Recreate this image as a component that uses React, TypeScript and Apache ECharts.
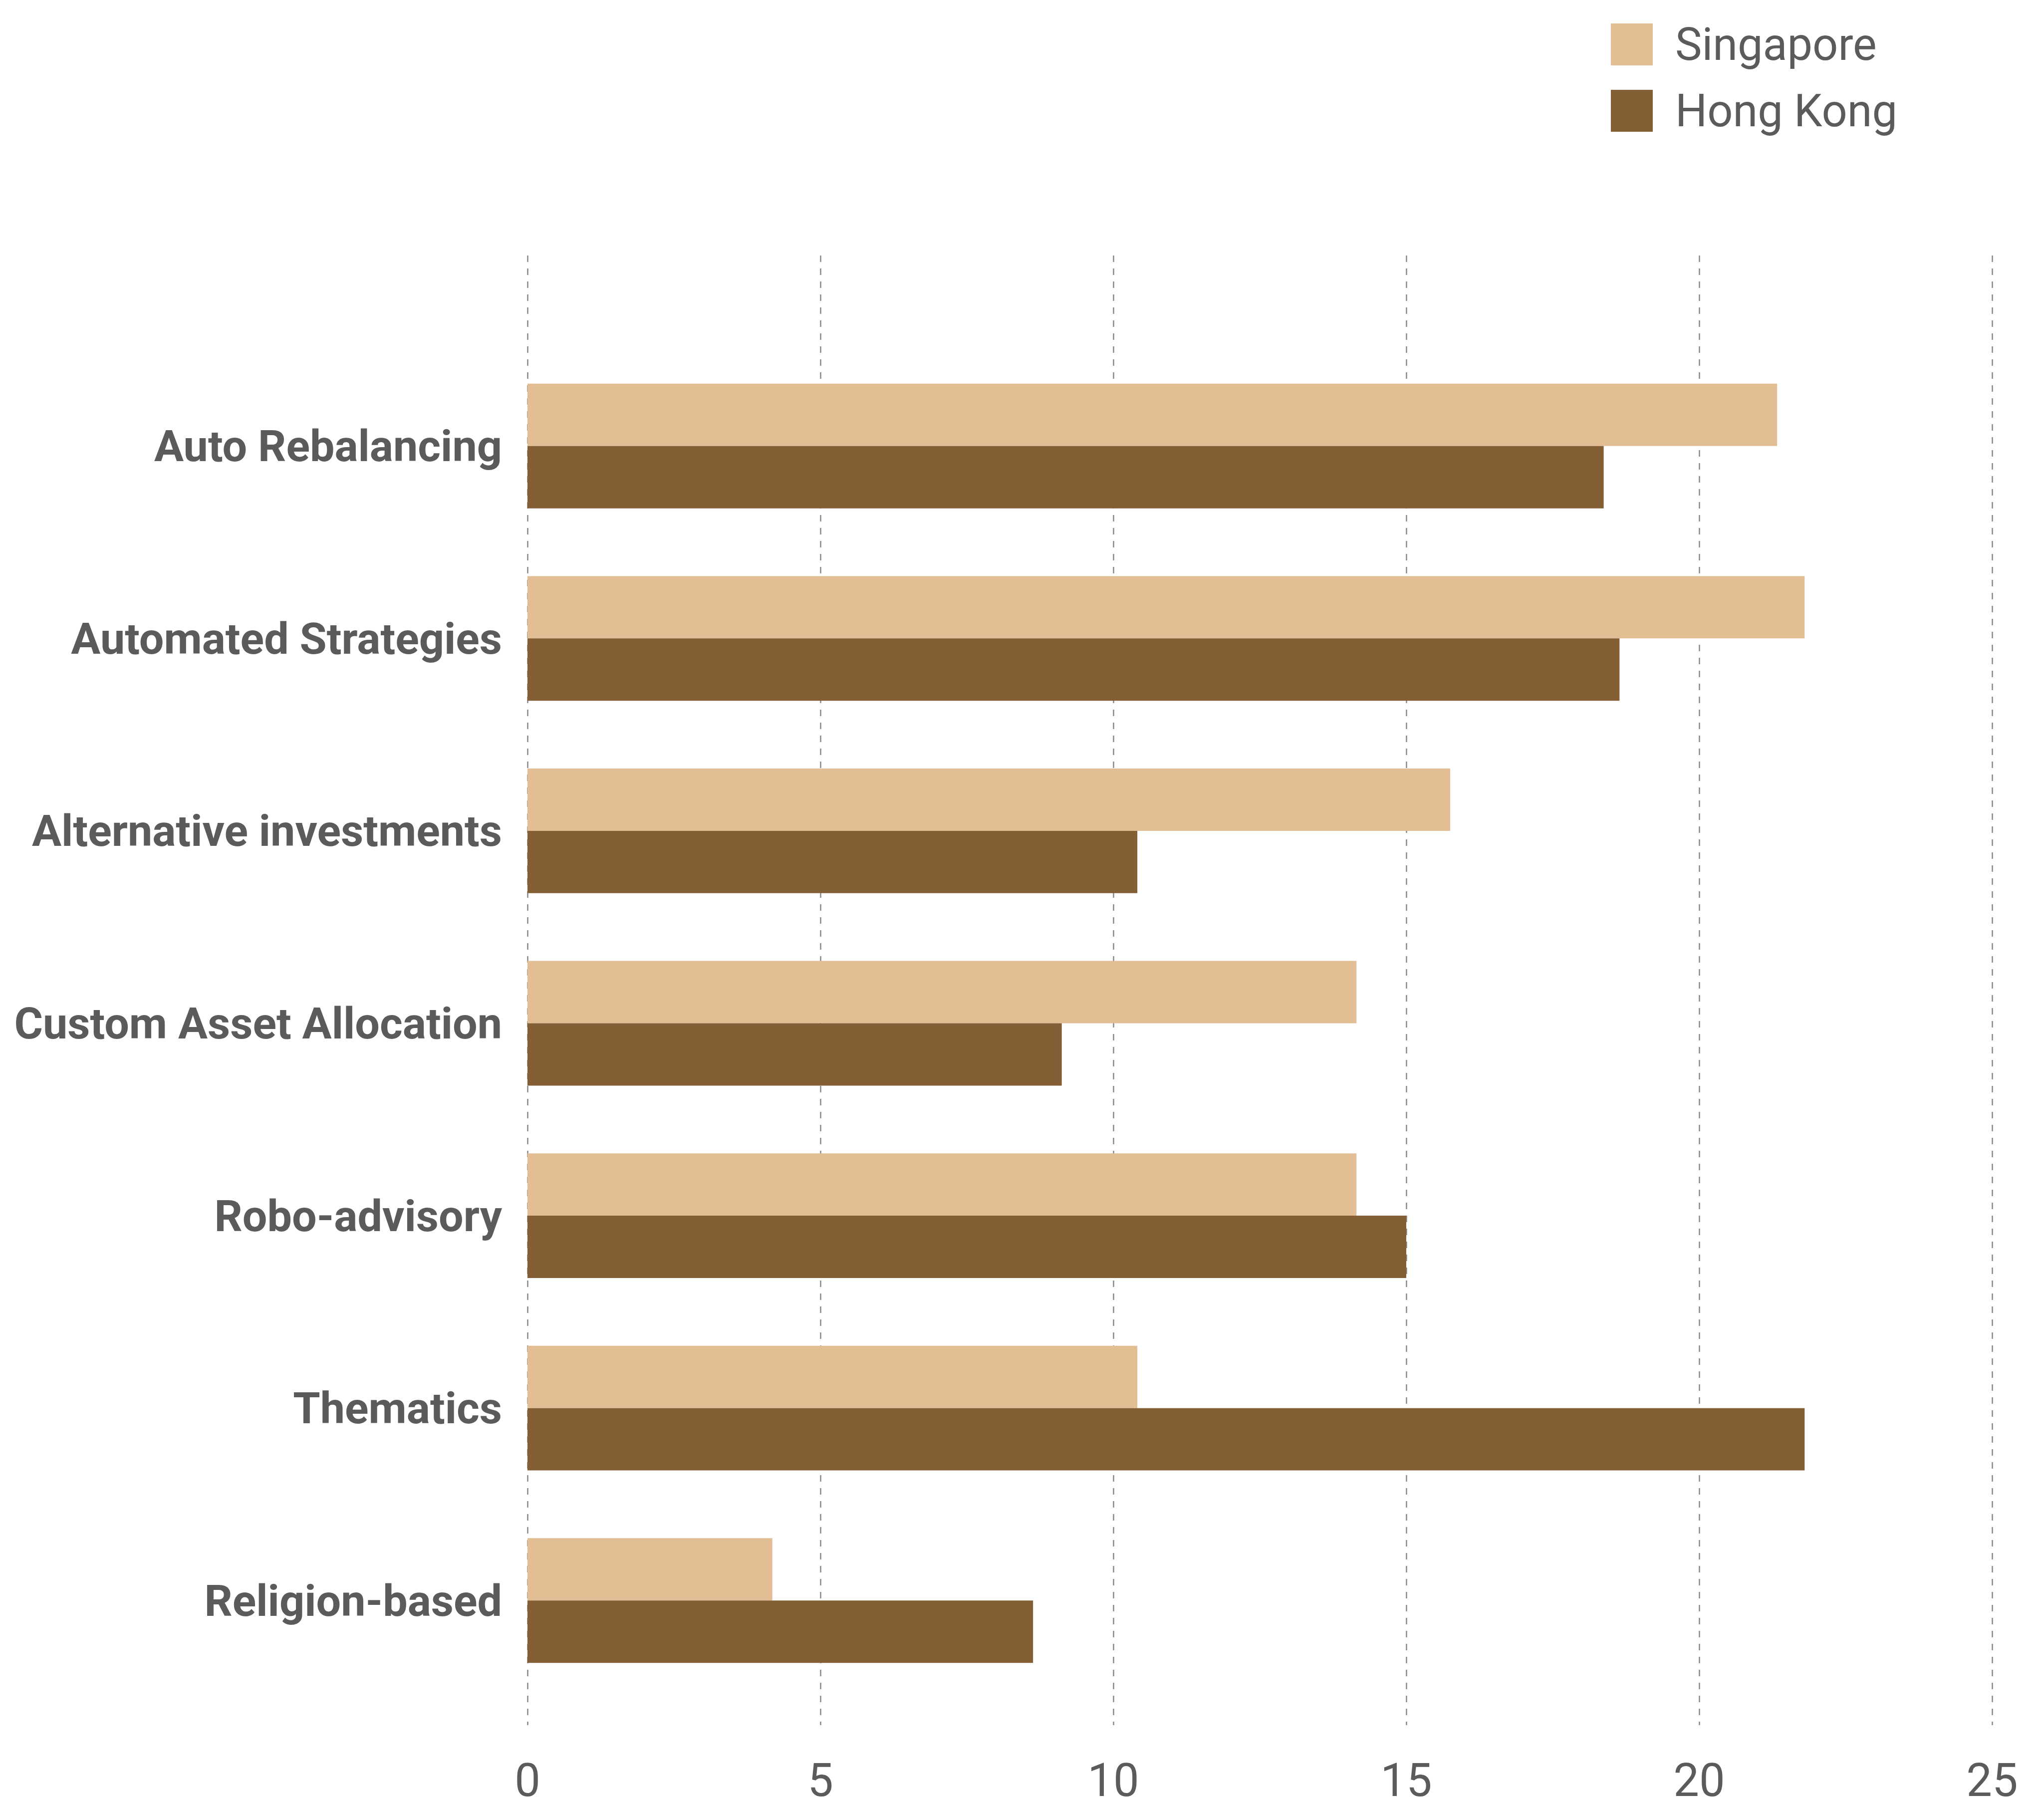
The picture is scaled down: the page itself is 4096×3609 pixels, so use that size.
import React, { useEffect, useRef } from "react";
import * as echarts from "echarts";

const categories = [
  "Auto Rebalancing",
  "Automated Strategies",
  "Alternative investments",
  "Custom Asset Allocation",
  "Robo-advisory",
  "Thematics",
  "Religion-based",
];
const singapore = [21.33, 21.8, 15.75, 14.15, 14.15, 10.41, 4.18];
const hongKong = [18.37, 18.64, 10.41, 9.12, 15.0, 21.8, 8.63];
const xTicks = [0, 5, 10, 15, 20, 25];

const SG_COLOR = "#E3BE94";
const HK_COLOR = "#845E35";
const TEXT = "#5b5b5b";
const FONT = "Roboto";

export default function App() {
  const ref = useRef<HTMLDivElement>(null);
  useEffect(() => {
    if (!ref.current) return;
    const chart = echarts.init(ref.current, undefined, { renderer: "svg" });
    const xMin = xTicks[0];
    const xMax = xTicks[xTicks.length - 1];
    const interval = xTicks[1] - xTicks[0];
    chart.setOption({
      animation: false,
      backgroundColor: "#ffffff",
      legend: {
        orient: "vertical",
        left: 3228,
        top: 44,
        padding: 0,
        itemWidth: 84,
        itemHeight: 84,
        itemGap: 43,
        icon: "rect",
        data: ["Singapore", "Hong Kong"],
        textStyle: {
          fontFamily: FONT,
          fontSize: 90,
          lineHeight: 84,
          color: TEXT,
          padding: [0, 0, 0, 40],
        },
      },
      grid: [
        { left: 1057, right: 104, top: 512, bottom: 152, outerBoundsMode: "none", containLabel: false },
        { left: 1057, right: 104, top: 701, bottom: 209, outerBoundsMode: "none", containLabel: false },
      ],
      xAxis: [
        {
          gridIndex: 0,
          type: "value",
          min: xMin,
          max: xMax,
          interval,
          axisLine: { show: false },
          axisTick: { show: false },
          splitLine: {
            show: true,
            lineStyle: { color: "#888888", width: 2.5, type: [13, 13] },
          },
          axisLabel: {
            margin: 75,
            fontFamily: FONT,
            fontSize: 92,
            lineHeight: 70,
            color: TEXT,
          },
        },
        {
          gridIndex: 1,
          type: "value",
          min: xMin,
          max: xMax,
          interval,
          show: false,
          splitLine: { show: false },
        },
      ],
      yAxis: [
        { gridIndex: 0, type: "value", min: 0, max: 1, show: false, splitLine: { show: false } },
        {
          gridIndex: 1,
          type: "category",
          data: categories,
          inverse: true,
          axisLine: { show: false },
          axisTick: { show: false },
          axisLabel: {
            margin: 51,
            fontFamily: FONT,
            fontWeight: "bold",
            fontSize: 88,
            color: TEXT,
          },
        },
      ],
      series: [
        {
          name: "Singapore",
          type: "bar",
          xAxisIndex: 1,
          yAxisIndex: 1,
          data: singapore,
          itemStyle: { color: SG_COLOR },
          barGap: "0%",
          barCategoryGap: "35.2%",
        },
        {
          name: "Hong Kong",
          type: "bar",
          xAxisIndex: 1,
          yAxisIndex: 1,
          data: hongKong,
          itemStyle: { color: HK_COLOR },
          barGap: "0%",
          barCategoryGap: "35.2%",
        },
      ],
    });
    return () => chart.dispose();
  }, []);
  return (
    <div
      ref={ref}
      style={{ position: "fixed", left: 0, top: 0, width: 4096, height: 3609 }}
    />
  );
}
